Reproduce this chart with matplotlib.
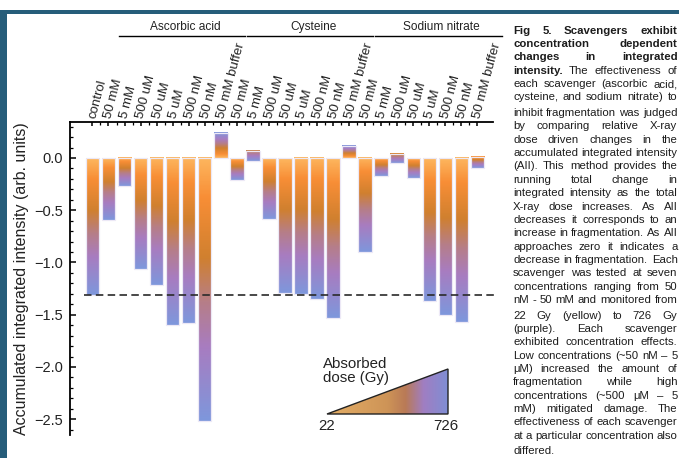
import numpy as np
import matplotlib.pyplot as plt
from matplotlib.colors import LinearSegmentedColormap
from matplotlib.patches import Polygon, Rectangle
from matplotlib.ticker import FixedLocator, MultipleLocator
import matplotlib.transforms as mtransforms

plt.rcParams['font.family'] = ['Liberation Sans', 'DejaVu Sans']

# --- data -------------------------------------------------------------
scavengers = ['Ascorbic acid', 'Cysteine', 'Sodium nitrate']
concentrations = ['50 mM', '5 mM', '500 uM', '50 uM', '5 uM', '500 nM', '50 nM', '50 mM buffer']
labels = ['control'] + concentrations * 3

# accumulated integrated intensity reached at the last dose
control_end = [-1.31]
ascorbic_end = [-0.59, -0.27, -1.06, -1.22, -1.60, -1.58, -2.52, 0.24]
cysteine_end = [-0.21, -0.03, -0.58, -1.29, -1.305, -1.35, -1.53, 0.115]
nitrate_end = [-0.90, -0.17, -0.05, -0.19, -1.365, -1.50, -1.57, -0.10]
# highest value reached on the way (a few runs go above zero first)
control_peak = [0.0]
ascorbic_peak = [0.0, 0.0, 0.0, 0.0, 0.0, 0.0, 0.0, 0.24]
cysteine_peak = [0.0, 0.07, 0.0, 0.0, 0.0, 0.0, 0.0, 0.115]
nitrate_peak = [0.0, 0.0, 0.04, 0.0, 0.0, 0.0, 0.0, 0.01]

dose_min, dose_max = 22, 726

caption = [
    "Fig 5. Scavengers exhibit",
    "concentration dependent",
    "changes in integrated",
    "intensity. The effectiveness of",
    "each scavenger (ascorbic acid,",
    "cysteine, and sodium nitrate) to",
    "inhibit fragmentation was judged",
    "by comparing relative X-ray",
    "dose driven changes in the",
    "accumulated integrated intensity",
    "(AII). This method provides the",
    "running total change in",
    "integrated intensity as the total",
    "X-ray dose increases. As AII",
    "decreases it corresponds to an",
    "increase in fragmentation. As AII",
    "approaches zero it indicates a",
    "decrease in fragmentation. Each",
    "scavenger was tested at seven",
    "concentrations ranging from 50",
    "nM - 50 mM and monitored from",
    "22 Gy (yellow) to 726 Gy",
    "(purple). Each scavenger",
    "exhibited concentration effects.",
    "Low concentrations (~50 nM \u2013 5",
    "\u03bcM) increased the amount of",
    "fragmentation while high",
    "concentrations (~500 \u03bcM \u2013 5",
    "mM) mitigated damage. The",
    "effectiveness of each scavenger",
    "at a particular concentration also",
    "differed.",
]
bold_words = {0: 99, 1: 99, 2: 99, 3: 1}

ends = control_end + ascorbic_end + cysteine_end + nitrate_end
peaks = control_peak + ascorbic_peak + cysteine_peak + nitrate_peak

# --- figure -----------------------------------------------------------
W, H = 679, 458
fig = plt.figure(figsize=(W / 100, H / 100), dpi=100)


def fx(px):
    return px / W


def fy(py):
    return 1 - py / H


bar_cmap = LinearSegmentedColormap.from_list('dose', [
    (0.0, '#FDB65E'), (0.15, '#F88E36'), (0.38, '#D0802F'),
    (0.55, '#B67E88'), (0.72, '#A87CC0'), (1.0, '#7E97DC')])
key_cmap = LinearSegmentedColormap.from_list('key', [
    (0.0, '#E4AE66'), (0.5, '#CE9457'), (0.65, '#B97A56'),
    (0.8, '#A07EC2'), (1.0, '#7F8ED4')])

ax = fig.add_axes([fx(70), fy(435), fx(493) - fx(70), fy(122) - fy(435)])

x = np.arange(len(ends))
w = 0.84
for i, (pk, en) in enumerate(zip(peaks, ends)):
    up = max(pk, 0.0)
    lo, hi = min(0.0, en), max(up, en)
    v = np.linspace(hi, lo, 200)
    l1, l2 = up, abs(up - en)
    tot = l1 + l2
    t = np.where(v >= 0, v / tot, 0.0) if l1 > 0 else np.zeros_like(v)
    if l2 > 0:
        leg2 = (v <= max(up, en)) & (v >= min(up, en))
        t[leg2] = (l1 + np.abs(up - v[leg2])) / tot
    ax.imshow(t[:, None], cmap=bar_cmap, vmin=0, vmax=1, aspect='auto',
              extent=(i - w / 2, i + w / 2, lo, hi), interpolation='bilinear',
              zorder=2)
    ax.bar(i, hi - lo, bottom=lo, width=w, fill=False, edgecolor='#ECE8F6',
           linewidth=0.9, zorder=3)

ax.plot([-0.5, 25.1], [control_end[0]] * 2, color='#2a2a2a', lw=1.2,
        dashes=(4.5, 2.6), zorder=4, clip_on=False)

ax.set_xlim(-1.4, 24.97)
ax.set_ylim(-2.651, 0.3445)
for s in ['right', 'bottom']:
    ax.spines[s].set_visible(False)
for s in ['left', 'top']:
    ax.spines[s].set_linewidth(1.3)

ax.yaxis.set_major_locator(MultipleLocator(0.5))
ax.yaxis.set_minor_locator(MultipleLocator(0.1))
ax.set_yticks(np.arange(-2.5, 0.01, 0.5))
ax.set_yticklabels(['\u22122.5', '\u22122.0', '\u22121.5', '\u22121.0', '\u22120.5', '0.0'])
ax.tick_params(axis='y', which='major', direction='in', length=4.5, width=1.1,
               labelsize=10.5, pad=5, labelcolor='#222222')
ax.tick_params(axis='y', which='minor', direction='in', length=2.5, width=0.9)

ax.xaxis.set_ticks_position('top')
ax.set_xticks(x)
ax.xaxis.set_minor_locator(FixedLocator(x[:-1] + 0.5))
ax.set_xticklabels(labels, rotation=75, ha='left', va='center',
                   rotation_mode='anchor', fontsize=9.5, color='#222222')
ax.tick_params(axis='x', which='major', direction='in', length=3, width=1.1, pad=3)
ax.tick_params(axis='x', which='minor', direction='in', length=2.5, width=0.9)

ax.set_ylabel('Accumulated integrated intensity (arb. units)', fontsize=11.5,
              color='#222222')
ax.yaxis.set_label_coords(-0.098, 0.5)

# group brackets above the concentration labels
trans = mtransforms.blended_transform_factory(ax.transData, ax.transAxes)
for g, name in enumerate(scavengers):
    first = 1 + 8 * g
    x0, x1 = first + 0.63, first + 8.5
    ax.plot([x0, x1], [1.2748, 1.2748], color='black', lw=1.0,
            transform=trans, clip_on=False)
    ax.text((x0 + x1) / 2 + 0.2, 1.3035, name, transform=trans, ha='center',
            va='center', fontsize=8.6, color='#222222')

# dose key (triangle)
kax = fig.add_axes([fx(327), fy(414), fx(448) - fx(327), fy(369) - fy(414)])
kax.set_xlim(0, 1)
kax.set_ylim(0, 1)
kax.axis('off')
grad = kax.imshow(np.linspace(0, 1, 256)[None, :], cmap=key_cmap, aspect='auto',
                  extent=(0, 1, 0, 1), interpolation='bilinear')
tri = Polygon([[0, 0], [1, 1], [1, 0]], closed=True, facecolor='none',
              edgecolor='#222222', lw=1.0, clip_on=False)
kax.add_patch(tri)
grad.set_clip_path(tri)
fig.text(fx(323), fy(371), 'Absorbed\ndose (Gy)', fontsize=10.8, ha='left',
         va='center', linespacing=1.05, color='#222222')
fig.text(fx(327), fy(426), str(dose_min), fontsize=10.8, ha='center',
         va='center', color='#222222')
fig.text(fx(446), fy(426), str(dose_max), fontsize=10.8, ha='center',
         va='center', color='#222222')

# page frame, with the descenders of the cut-off page heading above it
frame = '#265D7A'
fig.patches.append(Rectangle((0, fy(14)), 1, fy(9.5) - fy(14), transform=fig.transFigure,
                             facecolor=frame, edgecolor='none'))
fig.patches.append(Rectangle((0, 0), fx(7.3), fy(9.5), transform=fig.transFigure,
                             facecolor=frame, edgecolor='none'))
for gx in [197, 305, 411, 558]:
    fig.text(fx(gx), fy(-3), 'g', fontsize=12, fontweight='bold', color='#14237A',
             ha='center', va='baseline')

# justified caption
renderer = fig.canvas.get_renderer()
left, right = 513, 677.5
ys = []
y = 30.7
for k in range(len(caption)):
    ys.append(y)
    y += 13.35
    if k in (5, 20, 30):
        y += 2.3
for k, line in enumerate(caption):
    words = line.split(' ')
    nb = bold_words.get(k, 0)
    texts = []
    for j, wd in enumerate(words):
        t = fig.text(0, fy(ys[k]), wd, fontsize=8.2, va='center', ha='left',
                     fontweight='bold' if j < nb else 'normal', color='#1c1c1c')
        texts.append(t)
    widths = [t.get_window_extent(renderer).width for t in texts]
    if k == len(caption) - 1:
        gap = 2.3
    else:
        gap = (right - left - sum(widths)) / max(len(words) - 1, 1)
    xx = left
    for t, wdt in zip(texts, widths):
        t.set_x(fx(xx))
        xx += wdt + gap

fig.savefig('out.png', dpi=100)
